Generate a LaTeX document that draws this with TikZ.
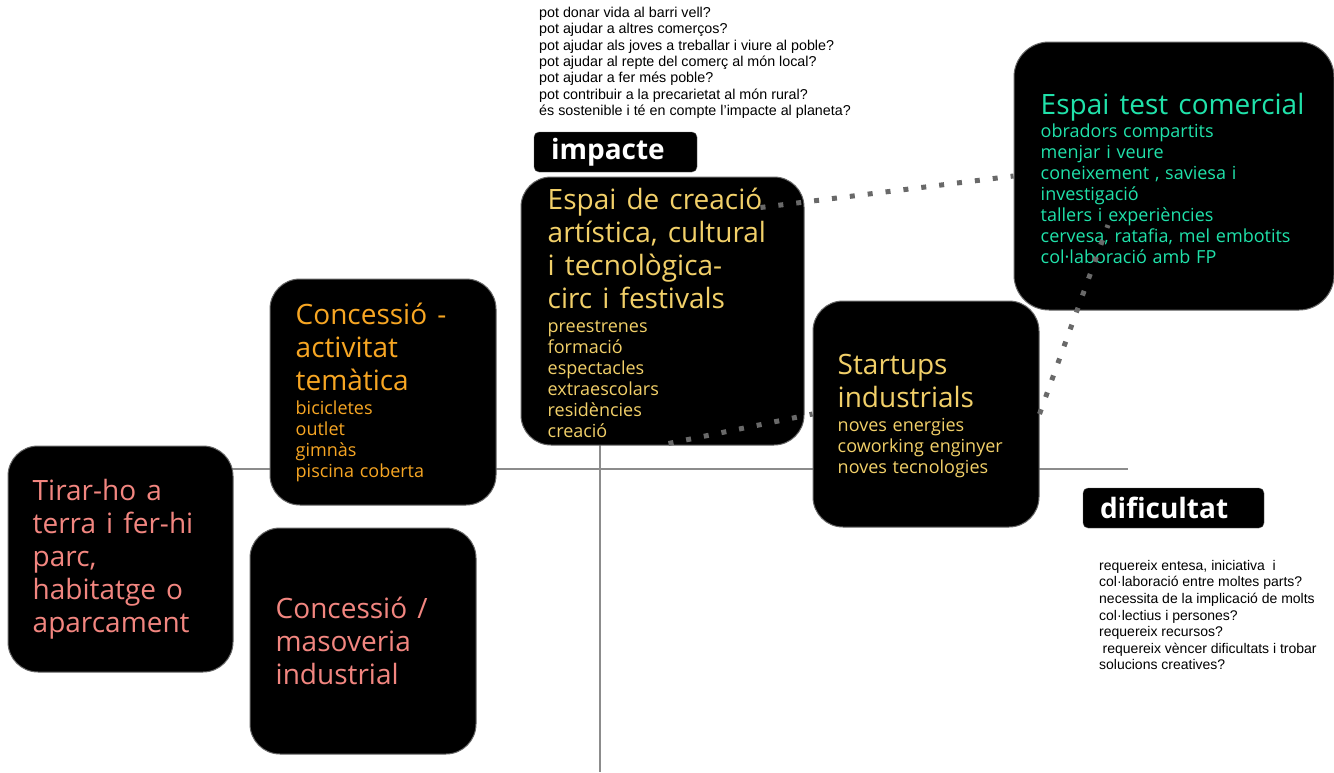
\documentclass[tikz,border=0pt]{standalone}
\usepackage{fontspec}
\setmainfont{Liberation Sans}
\newfontfamily\boxfont{Open Sans}
\usepackage{xcolor}
\usetikzlibrary{calc}

\definecolor{pinktxt}{RGB}{242,134,128}
\definecolor{orangetxt}{RGB}{247,166,35}
\definecolor{yellowtxt}{RGB}{242,208,105}
\definecolor{greentxt}{RGB}{32,226,170}
\definecolor{dotgray}{RGB}{105,105,105}

\newcommand{\bigtxt}{\boxfont\fontsize{28}{33}\selectfont\spaceskip=0.36em plus 0.1em\relax}
\newcommand{\smalltxt}{\boxfont\fontsize{18}{21}\selectfont\spaceskip=0.32em plus 0.1em\relax}

\begin{document}
\begin{tikzpicture}[x=1pt, y=-1pt,
    card/.style={rectangle, draw=black!60, line width=1pt, fill=black, rounded corners=30pt, minimum width=226pt, minimum height=226pt},
    cardtxt/.style={anchor=west, align=left, text width=300pt, inner sep=0pt},
    tag/.style={rectangle, draw=black!60, fill=black, rounded corners=5pt, text=white, font=\boxfont\bfseries\fontsize{28}{30}\selectfont, minimum height=40pt, inner xsep=17pt, inner ysep=0pt, align=left},
    qtext/.style={anchor=north west, align=left, inner sep=0pt},
    axis/.style={draw=black!45, line width=1.5pt},
    dots/.style={draw=dotgray, line width=5pt, dash pattern=on 5pt off 13pt}
]
    \useasboundingbox (0,0) rectangle (1334,772);

    % Axes
    \draw[axis] (232,469) -- (1128,469);
    \draw[axis] (600,178) -- (600,772);

    % Cards
    \node[card, minimum width=225pt] (tirar) at (120.5,559) {};
    \node[cardtxt, text=pinktxt] (tirar-txt) at ([xshift=25pt]tirar.west)
        {\bigtxt Tirar-ho a\\terra i fer-hi\\parc,\\habitatge o\\aparcament\par};

    \node[card] (activitat) at (383,392) {};
    \node[cardtxt, text=orangetxt] (activitat-txt) at ([xshift=26pt]activitat.west)
        {\bigtxt Concessió -\\activitat\\temàtica\par\vspace{3pt}
         \smalltxt bicicletes\\outlet\\gimnàs\\piscina coberta\par};

    \node[card] (masoveria) at (363,641) {};
    \node[cardtxt, text=pinktxt] (masoveria-txt) at ([xshift=26pt]masoveria.west)
        {\bigtxt Concessió /\\masoveria\\industrial\par};

    \node[card, minimum width=283pt, minimum height=268pt] (creacio) at (662.5,311) {};
    \node[cardtxt, text=yellowtxt] (creacio-txt) at ([xshift=27pt, yshift=-2pt]creacio.west)
        {\bigtxt Espai de creació\\artística, cultural\\i tecnològica-\\circ i festivals\par\vspace{3pt}
         \smalltxt preestrenes\\formació\\espectacles\\extraescolars\\residències\\creació\par};

    \node[card] (startups) at (926,414) {};
    \node[cardtxt, text=yellowtxt] (startups-txt) at ([xshift=25pt, yshift=-2pt]startups.west)
        {\bigtxt Startups\\industrials\par\vspace{3pt}
         \smalltxt noves energies\\coworking enginyer\\noves tecnologies\par};

    \node[card, minimum width=320pt, minimum height=268pt, rounded corners=35pt] (test) at (1174,176) {};
    \node[cardtxt, text=greentxt] (test-txt) at ([xshift=27pt, yshift=-2pt]test.west)
        {\bigtxt Espai test comercial\par\vspace{2pt}
         \smalltxt obradors compartits\\menjar i veure\\coneixement , saviesa i\\investigació\\tallers i experiències\\cervesa, ratafia, mel embotits\\col·laboració amb FP\par};

    % Axis tags
    \node[tag, text width=129pt] (impacte) at (615.5,152) {impacte};
    \node[tag, text width=147pt] (dificultat) at (1173.5,508) {dificultat};

    % Questions
    \node[qtext, font=\fontsize{14.3}{16.3}\selectfont] (q-impacte) at (539,7)
        {pot donar vida al barri vell?\\pot ajudar a altres comerços?\\pot ajudar als joves a treballar i viure al poble?\\pot ajudar al repte del comerç al món local?\\pot ajudar a fer més poble?\\pot contribuir a la precarietat al món rural?\\és sostenible i té en compte l’impacte al planeta?};
    \node[qtext, font=\fontsize{14}{16.6}\selectfont] (q-dificultat) at (1099,560)
        {requereix entesa, iniciativa\ \ i\\col·laboració entre moltes parts?\\necessita de la implicació de molts\\col·lectius i persones?\\requereix recursos?\\\hspace{3.5pt}requereix vèncer dificultats i trobar\\solucions creatives?};

    % Dotted links
    \coordinate (d1) at ([shift={(-44,31)}]creacio.north east);
    \coordinate (d2) at ([shift={(6,-2)}]creacio.south);
    \coordinate (d3) at ([shift={(-66,49)}]test.center);
    \draw[dots] (d1) -- (test.west);
    \draw[dots] (d2) -- (startups.west);
    \draw[dots] (startups.east) -- (d3);

\end{tikzpicture}
\end{document}
